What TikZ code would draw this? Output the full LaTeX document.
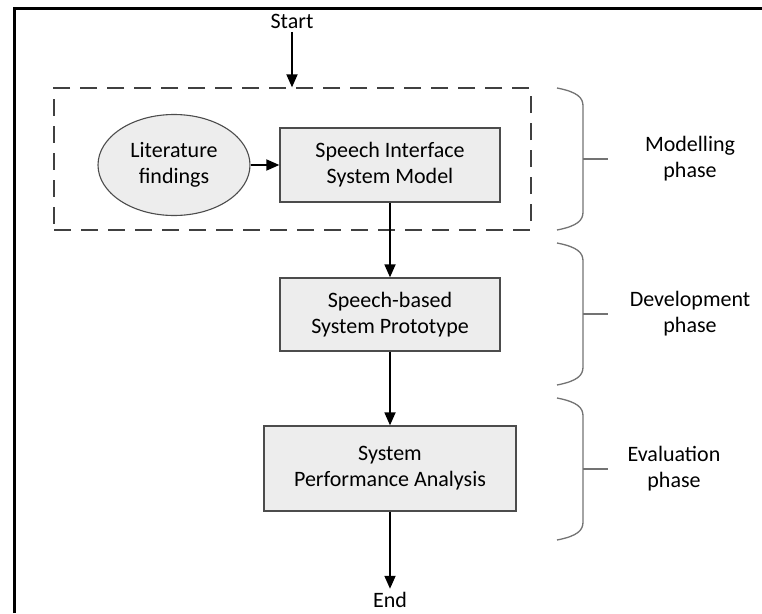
\documentclass[tikz,border=0pt]{standalone}
\usepackage{fontspec}
\setmainfont{Carlito}
\usetikzlibrary{shapes.geometric, arrows.meta, positioning, calc}

\begin{document}
\begin{tikzpicture}[x=1pt, y=-1pt,
  every node/.style={font=\fontsize{22}{26}\selectfont, align=center},
  stagebox/.style={draw=black!70, line width=1.3pt, fill=black!7, inner sep=0pt},
  flow/.style={-{Triangle[length=13pt, width=11pt]}, line width=1.8pt},
  phasebrace/.style={draw=black!55, line width=1.3pt}]
\useasboundingbox (0,0) rectangle (762,613);
% outer frame (only left and top edge are in view)
\draw [line width=3pt] (14,613) -- (14,8) -- (762,8);

% modelling group
\node [draw=black!75, line width=1.3pt, dash pattern=on 17pt off 10pt, minimum width=477pt, minimum height=142pt, inner sep=0pt] (modgroup) at (292.5,159) {};
\node [ellipse, draw=black!70, line width=1.1pt, fill=black!7, minimum width=152pt, minimum height=101pt, inner sep=0pt] (lit) at (174,165) {Literature\\findings};
\node [stagebox, minimum width=220pt, minimum height=74pt] (sysmodel) at (390,165) {Speech Interface\\System Model};

% development and evaluation
\node [stagebox, minimum width=220pt, minimum height=73pt] (proto) at (390,314.5) {Speech-based\\System Prototype};
\node [stagebox, minimum width=252pt, minimum height=85pt] (perf) at (390,468.5) {System\\Performance Analysis};

\node (start) at (292,21) {Start};
\node (finish) at (390,600) {End};

\draw [flow] (start) -- (start |- modgroup.north);
\draw [flow] (lit) -- (sysmodel);
\draw [flow] (sysmodel) -- (proto);
\draw [flow] (proto) -- (perf);
\draw [flow] (perf) -- (finish);

% phase braces
\foreach \top/\bot/\lx/\lbl in {88/230/690/Modelling, 243/385/690/Development, 398/540/674/Evaluation} {
  \draw [phasebrace] (557,\top) .. controls (578,\top+4) and (583,\top+10) .. (583,\top+18)
    -- (583,\bot-18) .. controls (583,\bot-10) and (578,\bot-4) .. (557,\bot);
  \draw [phasebrace] (583,{(\top+\bot)/2}) -- (608,{(\top+\bot)/2});
  \node at (\lx,{(\top+\bot)/2}) {\lbl\\phase};
}
\end{tikzpicture}
\end{document}
